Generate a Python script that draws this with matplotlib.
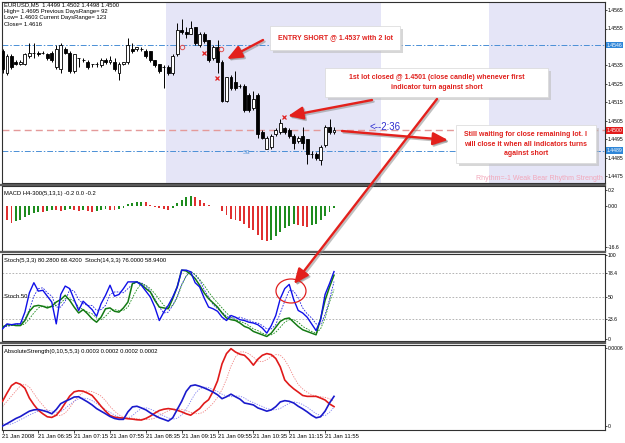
import matplotlib
matplotlib.use("Agg")
import matplotlib.pyplot as plt
import numpy as np
from matplotlib.patches import Rectangle, Ellipse, FancyArrowPatch
from matplotlib.lines import Line2D
from matplotlib.transforms import blended_transform_factory

plt.rcParams['font.family'] = ['Liberation Sans', 'DejaVu Sans']

# ---------------- data ----------------
symbol = "EURUSD,M5"
opens = [1.4543, 1.4531, 1.4540, 1.4537, 1.4536, 1.4536, 1.4540, 1.4542, 1.4542, 1.4542,
         1.4541, 1.4542, 1.4534, 1.4533, 1.4544, 1.4542, 1.4532, 1.4539, 1.4538, 1.4537,
         1.4536, 1.4536, 1.4535, 1.4538, 1.4537, 1.4537, 1.4531, 1.4536, 1.4537, 1.4544,
         1.4544, 1.4544, 1.4543, 1.4543, 1.4538, 1.4536, 1.4534, 1.4534, 1.4531, 1.4541,
         1.4554, 1.4553, 1.4552, 1.4556, 1.4546, 1.4552, 1.4549, 1.4539, 1.4545, 1.4537,
         1.4516, 1.4529, 1.4526, 1.4524, 1.4524, 1.4519, 1.4512, 1.4519, 1.4499, 1.4490,
         1.4491, 1.4498, 1.4499, 1.4501, 1.4500, 1.4497, 1.4494, 1.4497, 1.4495, 1.4487,
         1.4487, 1.4484, 1.4492, 1.4502, 1.4499]
highs = [1.4544, 1.4541, 1.4541, 1.4538, 1.4538, 1.4542, 1.4547, 1.4547, 1.4543, 1.4543,
         1.4542, 1.4543, 1.4546, 1.4547, 1.4545, 1.4543, 1.4541, 1.4539, 1.4539, 1.4538,
         1.4536, 1.4537, 1.4539, 1.4539, 1.4540, 1.4539, 1.4537, 1.4537, 1.4550, 1.4547,
         1.4545, 1.4545, 1.4544, 1.4543, 1.4538, 1.4536, 1.4535, 1.4535, 1.4541, 1.4558,
         1.4560, 1.4556, 1.4559, 1.4556, 1.4553, 1.4553, 1.4549, 1.4546, 1.4549, 1.4538,
         1.4529, 1.4530, 1.4532, 1.4525, 1.4525, 1.4520, 1.4521, 1.4520, 1.4500, 1.4497,
         1.4498, 1.4501, 1.4506, 1.4502, 1.4501, 1.4498, 1.4497, 1.4502, 1.4495, 1.4489,
         1.4488, 1.4492, 1.4503, 1.4506, 1.4502]
lows = [1.4531, 1.4530, 1.4533, 1.4535, 1.4535, 1.4535, 1.4539, 1.4539, 1.4540, 1.4541,
        1.4538, 1.4537, 1.4533, 1.4531, 1.4541, 1.4531, 1.4531, 1.4534, 1.4537, 1.4533,
        1.4534, 1.4534, 1.4534, 1.4536, 1.4536, 1.4532, 1.4527, 1.4535, 1.4536, 1.4542,
        1.4543, 1.4543, 1.4539, 1.4537, 1.4534, 1.4531, 1.4523, 1.4530, 1.4530, 1.4540,
        1.4552, 1.4550, 1.4552, 1.4546, 1.4545, 1.4547, 1.4537, 1.4538, 1.4531, 1.4515,
        1.4515, 1.4522, 1.4522, 1.4523, 1.4510, 1.4510, 1.4511, 1.4496, 1.4495, 1.4490,
        1.4490, 1.4497, 1.4498, 1.4498, 1.4496, 1.4490, 1.4493, 1.4490, 1.4482, 1.4485,
        1.4484, 1.4481, 1.4491, 1.4498, 1.4498]
closes = [1.4533, 1.4540, 1.4534, 1.4536, 1.4537, 1.4541, 1.4542, 1.4542, 1.4541, 1.4542,
          1.4539, 1.4538, 1.4544, 1.4546, 1.4542, 1.4532, 1.4541, 1.4539, 1.4538, 1.4534,
          1.4536, 1.4536, 1.4538, 1.4537, 1.4538, 1.4533, 1.4536, 1.4537, 1.4546, 1.4543,
          1.4545, 1.4544, 1.4540, 1.4538, 1.4535, 1.4532, 1.4534, 1.4531, 1.4540, 1.4554,
          1.4553, 1.4552, 1.4555, 1.4547, 1.4552, 1.4548, 1.4538, 1.4545, 1.4537, 1.4516,
          1.4529, 1.4523, 1.4523, 1.4524, 1.4511, 1.4511, 1.4517, 1.4498, 1.4496, 1.4496,
          1.4497, 1.4500, 1.4504, 1.4499, 1.4497, 1.4493, 1.4496, 1.4493, 1.4487, 1.4487,
          1.4485, 1.4491, 1.4502, 1.4499, 1.4500]

day_high, day_low, prev_close = 1.4695, 1.4603, 1.4616
prev_range, cur_range = 92, 123

level_blue = [1.4546, 1.4489]     # pivot lines
level_red = 1.4500                # current bid line
price_ticks = [1.4565, 1.4555, 1.4535, 1.4525, 1.4515, 1.4505, 1.4495, 1.4485, 1.4475]
session_start = [36.5, 108.5]
session_end = [84.5, 156.5]

sig_x_idx = [45.0, 47.9, 62.8]
sig_x_price = [1.45418, 1.45282, 1.45072]
sig_o_idx = [40.1, 48.8]
sig_o_price = [1.4545, 1.45439]

macd = [-0.14, -0.17, -0.21, -0.19, -0.17, -0.14, -0.11, -0.09, -0.07, -0.075,
        -0.06, -0.05, -0.055, -0.06, -0.05, -0.04, -0.05, -0.06, -0.05, -0.06,
        -0.07, -0.06, -0.05, -0.04, -0.045, -0.05, -0.04, -0.02, 0.02, 0.04,
        0.05, 0.055, 0.045, 0.01, -0.01, -0.03, -0.04, -0.05, -0.02, 0.04,
        0.08, 0.11, 0.13, 0.11, 0.08, 0.04, 0.01, 0.003, -0.005, -0.06,
        -0.11, -0.16, -0.17, -0.19, -0.23, -0.27, -0.30, -0.36, -0.42, -0.44,
        -0.42, -0.37, -0.32, -0.28, -0.25, -0.23, -0.24, -0.25, -0.26, -0.24,
        -0.22, -0.18, -0.13, -0.07, -0.03]

sto5_main = [12, 18, 17, 18, 18, 32, 55, 67, 57, 58, 51, 44, 18, 53, 63, 60, 47, 34, 45, 40,
             35, 27, 42, 52, 64, 51, 53, 60, 68, 68, 68, 64, 57, 50, 38, 22, 32, 40, 50, 62,
             82, 82, 80, 67, 62, 49, 38, 36, 33, 26, 22, 28, 26, 23, 22, 20, 19, 17, 13, 7,
             16, 28, 48, 60, 65, 47, 34, 31, 26, 18, 10, 23, 53, 66, 80.28]
sto5_sig = [14, 15, 16, 18, 18, 23, 35, 51, 60, 61, 55, 51, 38, 38, 45, 59, 57, 47, 42, 40,
            40, 34, 35, 40, 53, 56, 56, 55, 60, 65, 68, 67, 63, 57, 48, 38, 31, 32, 40, 51,
            65, 75, 81, 76, 70, 59, 50, 41, 36, 32, 27, 25, 25, 26, 24, 22, 20, 19, 16, 12,
            12, 17, 31, 45, 58, 57, 49, 37, 30, 25, 18, 17, 29, 47, 68.42]
sto14_main = [14, 17, 17, 16, 16, 22, 33, 39, 40, 39, 37, 39, 44, 47, 52, 46, 38, 31, 35, 30,
              24, 20, 26, 36, 37, 33, 32, 37, 44, 66, 68, 65, 60, 56, 46, 38, 37, 36, 48, 62,
              82, 81, 77, 72, 64, 55, 48, 43, 38, 31, 25, 23, 22, 19, 15, 13, 9, 7, 5, 3,
              7, 14, 21, 24, 25, 20, 15, 11, 9, 7, 5, 24, 46, 62, 76.0]
sto14_sig = [15, 16, 16, 17, 16, 18, 24, 31, 37, 39, 39, 38, 40, 43, 48, 48, 45, 38, 35, 32,
             30, 25, 23, 27, 33, 35, 34, 34, 38, 49, 59, 66, 64, 60, 54, 47, 40, 37, 40, 49,
             64, 75, 80, 77, 71, 64, 56, 49, 43, 37, 31, 26, 23, 21, 19, 16, 12, 10, 7, 5,
             5, 8, 14, 20, 23, 23, 20, 15, 12, 9, 7, 12, 25, 44, 58.94]
sto_levels = [78.4, 50, 23.6]

# AbsoluteStrength in units of 1e-4
abs_bear = [1.90, 2.53, 3.11, 3.34, 3.21, 2.91, 2.15, 1.64, 1.21, 0.94,
            0.71, 0.66, 0.83, 1.24, 1.77, 2.30, 2.63, 2.71, 2.68, 2.53,
            2.35, 1.95, 1.52, 1.14, 0.81, 0.68, 0.63, 0.61, 0.56, 0.53,
            0.48, 0.46, 0.58, 0.76, 0.99, 1.19, 1.29, 1.34, 1.29, 1.21,
            1.09, 0.94, 0.83, 1.09, 1.34, 1.75, 2.02, 2.66, 3.47, 4.78,
            5.57, 5.95, 5.69, 5.52, 5.44, 5.11, 4.68, 5.14, 5.44, 5.57,
            5.49, 5.19, 4.55, 3.54, 3.16, 2.86, 2.61, 2.35, 2.28, 2.28,
            2.28, 2.15, 2.00, 1.70, 1.49]
abs_bear_sig = [1.5, 1.9, 2.3, 2.7, 3.1, 3.2, 3.0, 2.5, 2.0, 1.6,
                1.2, 0.95, 0.8, 0.8, 1.0, 1.4, 1.9, 2.3, 2.6, 2.7,
                2.65, 2.5, 2.3, 1.95, 1.5, 1.15, 0.85, 0.7, 0.64, 0.6,
                0.56, 0.52, 0.5, 0.52, 0.6, 0.8, 1.0, 1.17, 1.28, 1.32,
                1.28, 1.18, 1.05, 0.95, 0.95, 1.1, 1.4, 1.75, 2.2, 2.8,
                3.6, 4.6, 5.3, 5.7, 5.7, 5.55, 5.3, 5.0, 4.95, 5.1,
                5.35, 5.5, 5.45, 5.1, 4.5, 3.8, 3.2, 2.85, 2.6, 2.4,
                2.3, 2.25, 2.2, 2.1, 1.9]
abs_bull = [0.00, 0.18, 0.38, 0.58, 0.73, 0.94, 1.14, 1.24, 1.27, 1.19,
            1.09, 0.94, 1.27, 1.72, 1.90, 2.05, 2.23, 2.25, 2.05, 1.85,
            1.62, 1.34, 1.14, 0.94, 0.73, 0.58, 0.51, 0.51, 1.09, 1.47,
            1.52, 1.39, 1.24, 1.01, 0.81, 0.63, 0.51, 0.38, 0.63, 1.27,
            1.90, 2.66, 3.09, 3.16, 3.06, 2.93, 2.78, 2.61, 2.40, 2.10,
            2.25, 2.45, 2.25, 2.07, 1.77, 1.70, 1.62, 1.39, 1.27, 1.14,
            1.24, 1.49, 1.85, 1.95, 1.90, 1.77, 1.52, 1.32, 1.09, 0.83,
            0.63, 0.71, 1.14, 1.77, 2.28]
abs_bull_sig = [0.2, 0.1, 0.15, 0.3, 0.5, 0.65, 0.85, 1.0, 1.15, 1.22,
                1.22, 1.15, 1.05, 1.1, 1.35, 1.65, 1.9, 2.1, 2.15, 2.1,
                1.95, 1.75, 1.5, 1.25, 1.05, 0.85, 0.7, 0.58, 0.6, 0.8,
                1.1, 1.35, 1.4, 1.3, 1.15, 0.95, 0.78, 0.62, 0.52, 0.6,
                0.85, 1.3, 1.9, 2.5, 2.85, 3.0, 2.95, 2.8, 2.65, 2.45,
                2.3, 2.25, 2.3, 2.3, 2.15, 1.95, 1.8, 1.65, 1.5, 1.35,
                1.25, 1.25, 1.35, 1.55, 1.75, 1.85, 1.8, 1.65, 1.45, 1.2,
                0.95, 0.8, 0.8, 1.05, 1.45]

time_tick_idx = [0, 8, 16, 24, 32, 40, 48, 56, 64, 72]
time_tick_labels = ["21 Jan 2008", "21 Jan 06:35", "21 Jan 07:15", "21 Jan 07:55",
                    "21 Jan 08:35", "21 Jan 09:15", "21 Jan 09:55", "21 Jan 10:35",
                    "21 Jan 11:15", "21 Jan 11:55"]

# ---------------- figure ----------------
W, H = 625, 443
fig = plt.figure(figsize=(W / 100, H / 100), dpi=100)
fig.patch.set_facecolor('white')


def fr(x0, y0, x1, y1):
    return [x0 / W, 1 - y1 / H, (x1 - x0) / W, (y1 - y0) / H]


def P(x, y):
    return (x / W, 1 - y / H)


ax_main = fig.add_axes(fr(2, 2, 605, 183))
ax_macd = fig.add_axes(fr(2, 186, 605, 251))
ax_sto = fig.add_axes(fr(2, 254, 605, 341))
ax_abs = fig.add_axes(fr(2, 345, 605, 430))

XL = (-0.5 / 4.48, 602.5 / 4.48)
FS = 4.2
FSR = 3.7
for ax in (ax_main, ax_macd, ax_sto, ax_abs):
    ax.set_xlim(*XL)
    ax.yaxis.tick_right()
    ax.tick_params(axis='y', direction='out', length=1.5, width=0.5, pad=0.6,
                   labelsize=FSR, colors='black')
    for s in ax.spines.values():
        s.set_color('#303030')
        s.set_linewidth(0.8)
    if ax is not ax_abs:
        ax.set_xticks([])

n = len(opens)
xi = np.arange(n)
o = np.array(opens); h = np.array(highs); l = np.array(lows); c = np.array(closes)

# ---- main price panel ----
ax = ax_main
top_price = 1.4565 + 8 / 18500
bot_price = 1.4565 - 173 / 18500
ax.set_ylim(bot_price, top_price)
for s0, s1 in zip(session_start, session_end):
    ax.axvspan(s0, s1, color='#E5E5F7', lw=0, zorder=0)
for lv in level_blue:
    ax.axhline(lv, color='#4A8FD6', lw=0.7, ls=(0, (6, 2, 1.5, 2)), zorder=1)
ax.axhline(level_red, color='#E49A9A', lw=1.0, ls=(0, (5, 3)), zorder=1)

up = c >= o
ax.vlines(xi, l, h, color='black', lw=0.7, zorder=2)
ax.bar(xi, np.abs(c - o), bottom=np.minimum(o, c), width=0.66,
       color=np.where(up, 'white', 'black'), edgecolor='black', linewidth=0.6, zorder=3)

ax.plot(sig_x_idx, sig_x_price, 'x', color='#E02020', ms=2.6, mew=0.9, zorder=4)
ax.plot(sig_o_idx, sig_o_price, 'o', mfc='none', mec='#E05050', ms=3.2, mew=0.7, zorder=4)

ax.set_yticks(price_ticks)
ax.set_yticklabels([f"{p:.4f}" for p in price_ticks])
trb = blended_transform_factory(ax.transAxes, ax.transData)
for lv, bg in [(level_blue[0], '#2F86D8'), (level_red, '#E21B1B'), (level_blue[1], '#2F86D8')]:
    ax.text(1.003, lv, f"{lv:.4f}", transform=trb, fontsize=FSR, color='white',
            va='center', ha='left',
            bbox=dict(boxstyle='square,pad=0.15', fc=bg, ec='none'), zorder=6, clip_on=False)

ax.text(243 / 4.48 - 0.6, 1.4565 - 143 / 18500, "S3", fontsize=4.5, color='#4A8FD6',
        va='center', ha='left', zorder=4)

hdr = [f"{symbol}  {o[-1]:.4f} {h[-1]:.4f} {l[-1]:.4f} {c[-1]:.4f}",
       f"High= {day_high:.4f} Previous DaysRange= {prev_range}",
       f"Low= {day_low:.4f} Current DaysRange= {cur_range}",
       f"Close= {prev_close:.4f}"]
for k, (t, yy) in enumerate(zip(hdr, [5, 11, 17.5, 24])):
    fig.text(*P(4, yy), t, fontsize=FS, color='black', va='center', ha='left', zorder=7)

fig.text(*P(603, 178), "Rhythm=-1 Weak Bear Rhythm Strength", fontsize=5, color='#F2A7BA',
         va='center', ha='right', zorder=7)
fig.text(*P(370, 127), "<--2:36", fontsize=7, color='#2E2ECF', va='center', ha='left', zorder=7)

# ---- MACD ----
ax = ax_macd
m = np.array(macd)
mcol = ['#E03030'] + ['#1E8C1E' if m[i] >= m[i - 1] else '#E03030' for i in range(1, n)]
ax.bar(xi, m, width=0.42, color=mcol, lw=0, zorder=2)
ax.set_ylim((206 - 251) / 80, (206 - 186) / 80)
ax.set_yticks([0.2, 0.0, -0.51])
ax.set_yticklabels(['0.2', '0.00', '-16.6'])
ax.text(0.004, 0.89, "MACD H4-300(5,13,1) -0.2 0.0 -0.2", transform=ax.transAxes,
        fontsize=FS, va='center', ha='left')

# ---- Stochastics ----
ax = ax_sto
ax.set_ylim(-(341 - 339) / 0.84, 100 + (255 - 254) / 0.84)
for lv in sto_levels:
    ax.axhline(lv, color='#A8A8A8', lw=0.6, ls=(0, (2, 2)), zorder=1)
ax.plot(xi, sto5_sig, color='#2020E0', lw=0.6, ls=(0, (2, 1.5)), zorder=2)
ax.plot(xi, sto14_sig, color='#1C8C1C', lw=0.6, ls=(0, (2, 1.5)), zorder=2)
ax.plot(xi, sto14_main, color='#137A13', lw=1.1, zorder=3)
ax.plot(xi, sto5_main, color='#1010E8', lw=1.0, zorder=4)
ax.set_yticks([100, 78.4, 50, 23.6, 0])
ax.set_yticklabels(['100', '78.4', '50', '23.6', '0'])
ax.text(0.004, 0.93, f"Stoch(5,3,3) {sto5_main[-1]:.4f} {sto5_sig[-1]:.4f}  "
        f"Stoch(14,3,3) {sto14_main[-1]:.4f} {sto14_sig[-1]:.4f}",
        transform=ax.transAxes, fontsize=FS, va='center', ha='left')
ax.text(0.004, 50, "Stoch 50", transform=blended_transform_factory(ax.transAxes, ax.transData),
        fontsize=FS, va='center', ha='left')

# ---- AbsoluteStrength ----
ax = ax_abs
sc = 1e-4
ax.set_ylim(-(430 - 426) / 78 * 6 * sc, (6 + (348 - 345) / 78 * 6) * sc)
ax.plot(xi, np.array(abs_bear_sig) * sc, color='#F08080', lw=0.6, ls=(0, (1.5, 1.5)), zorder=2)
ax.plot(xi, np.array(abs_bull_sig) * sc, color='#8080F0', lw=0.6, ls=(0, (1.5, 1.5)), zorder=2)
ax.plot(xi, np.array(abs_bear) * sc, color='#E01A1A', lw=1.2, zorder=3)
ax.plot(xi, np.array(abs_bull) * sc, color='#1A1ACC', lw=1.2, zorder=3)
ax.set_yticks([6e-4, 0])
ax.set_yticklabels(['0.0006', '0'])
ax.text(0.004, 0.92, "AbsoluteStrength(0,10,5,5,3) 0.0003 0.0002 0.0002 0.0002",
        transform=ax.transAxes, fontsize=FS, va='center', ha='left')
ax.set_xticks(time_tick_idx)
ax.set_xticklabels(time_tick_labels)
ax.tick_params(axis='x', direction='out', length=2, width=0.5, pad=1, labelsize=FS)
for lb in ax.get_xticklabels():
    lb.set_horizontalalignment('left')

# panel separators
for yy in (184.5, 252.5, 343):
    fig.add_artist(Line2D([0, 605 / W], [1 - yy / H] * 2, transform=fig.transFigure,
                          color='#5A5A5A', lw=1.6, zorder=5))

# ---- annotation boxes ----
def box(x0, y0, x1, y1, lines, yl):
    fig.add_artist(Rectangle(P(x0 + 3, y1 + 3), (x1 - x0) / W, (y1 - y0) / H,
                             transform=fig.transFigure, fc='#BDBDBD', ec='none',
                             alpha=0.6, zorder=7))
    fig.add_artist(Rectangle(P(x0, y1), (x1 - x0) / W, (y1 - y0) / H,
                             transform=fig.transFigure, fc='white', ec='#D8D8D8',
                             lw=0.5, zorder=8))
    for t, yy in zip(lines, yl):
        fig.text(*P((x0 + x1) / 2, yy), t, fontsize=5.0, fontweight='bold',
                 color='#E0201C', ha='center', va='center', zorder=9)


box(270, 26, 400, 50, ["ENTRY SHORT @ 1.4537 with 2 lot"], [38])
box(325, 68, 548, 97, ["1st lot closed @ 1.4501 (close candle) whenever first",
                       "indicator turn against short"], [77.5, 87.5])
box(456, 125, 596, 163, ["Still waiting for close remaining lot. I",
                         "will close it when all indicators turns",
                         "against short"], [134.5, 144, 153.5])


def arrow(x0, y0, x1, y1):
    for d, col, z, al in [(1.6, '#8C8C8C', 10, 0.55), (0, '#E3201C', 11, 1.0)]:
        a = FancyArrowPatch(P(x0 + d, y0 + d), P(x1 + d, y1 + d), transform=fig.transFigure,
                            arrowstyle='-|>,head_length=0.75,head_width=0.32',
                            mutation_scale=12, lw=1.7, color=col, alpha=al, zorder=z,
                            shrinkA=0, shrinkB=0)
        fig.add_artist(a)


arrow(263, 40, 227, 59)
arrow(372, 100, 288, 116)
arrow(342, 131, 448, 140)
arrow(437, 99, 294, 284)

fig.add_artist(Ellipse(P(291, 291), 30 / W, 24 / H, transform=fig.transFigure,
                       fc='none', ec='#E02020', lw=0.9, zorder=12))

fig.savefig("out.png", dpi=100)
